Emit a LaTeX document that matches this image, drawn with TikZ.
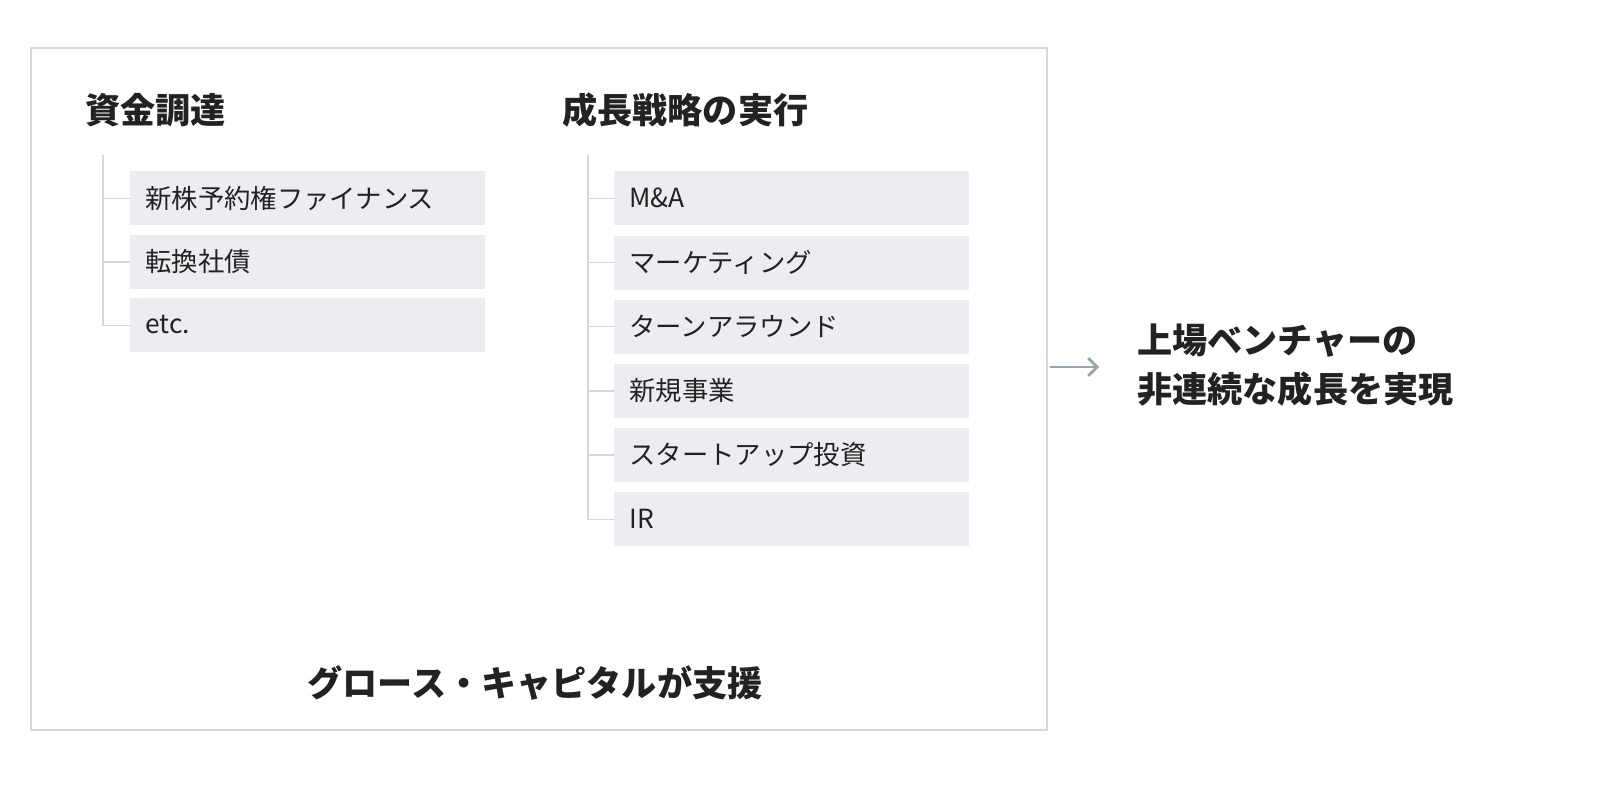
\documentclass[tikz,border=0pt]{standalone}
\usepackage{fontspec}
\setmainfont{Noto Sans CJK JP}
\usetikzlibrary{arrows.meta}
\definecolor{boxgray}{HTML}{ECEDF1}
\definecolor{framegray}{HTML}{D5D6DE}
\definecolor{txt}{HTML}{222222}
\definecolor{arrowgray}{HTML}{9AA3B0}
\tikzset{
  heading/.style={anchor=west, font=\fontsize{20}{24}\selectfont\bfseries, text=txt, inner sep=0},
  itembox/.style={fill=boxgray, minimum width=7.1cm, minimum height=1.08cm, anchor=north west,
    inner sep=0},
  itemtext/.style={anchor=west, font=\fontsize{15}{18}\selectfont, text=txt, inner sep=0},
  branch/.style={draw=framegray, line width=0.8pt}
}
\begin{document}
\begin{tikzpicture}[x=0.02cm, y=-0.02cm]
\useasboundingbox (0,0) rectangle (1600,800);

% Frame
\draw [framegray, line width=1pt] ( 31, 48 ) rectangle ( 1047, 730 );

% Headings
\node (hfund) at ( 85, 110 ) [heading] {資金調達};
\node (hgrow) at ( 562, 110 ) [heading] {成長戦略の実行};

% Left list
\coordinate (ltop) at ( 103, 155 );
\foreach \t [count=\i] in {新株予約権ファイナンス, 転換社債, etc.} {
  \node (l\i) at ( 130, 171 + 63.5*\i - 63.5 ) [itembox] {};
  \node at ( 145, 198 + 63.5*\i - 63.5 ) [itemtext] {\t};
  \draw [branch] (l\i.west) -- ++( -27, 0 );
}
\draw [branch] (ltop) |- (l3.west);

% Right list
\coordinate (rtop) at ( 588, 155 );
\foreach \t [count=\i] in {M\&A, マーケティング, ターンアラウンド, 新規事業, スタートアップ投資, IR} {
  \node (r\i) at ( 614, 171 + 64.2*\i - 64.2 ) [itembox] {};
  \node at ( 629, 198 + 64.2*\i - 64.2 ) [itemtext] {\t};
  \draw [branch] (r\i.west) -- ++( -26, 0 );
}
\draw [branch] (rtop) |- (r6.west);

% Bottom label
\node (support) at ( 535, 683 ) [heading, anchor=center] {グロース・キャピタルが支援};

% Arrow and result
\coordinate (afrom) at ( 1050, 367 );
\coordinate (ato) at ( 1099, 367 );
\draw [arrowgray, line width=1.6pt, -{Straight Barb[length=5pt, width=10pt]}] (afrom) -- (ato);
\node (result) at ( 1137, 365 ) [heading, align=left] {上場ベンチャーの\\[4pt]非連続な成長を実現};

\end{tikzpicture}
\end{document}
